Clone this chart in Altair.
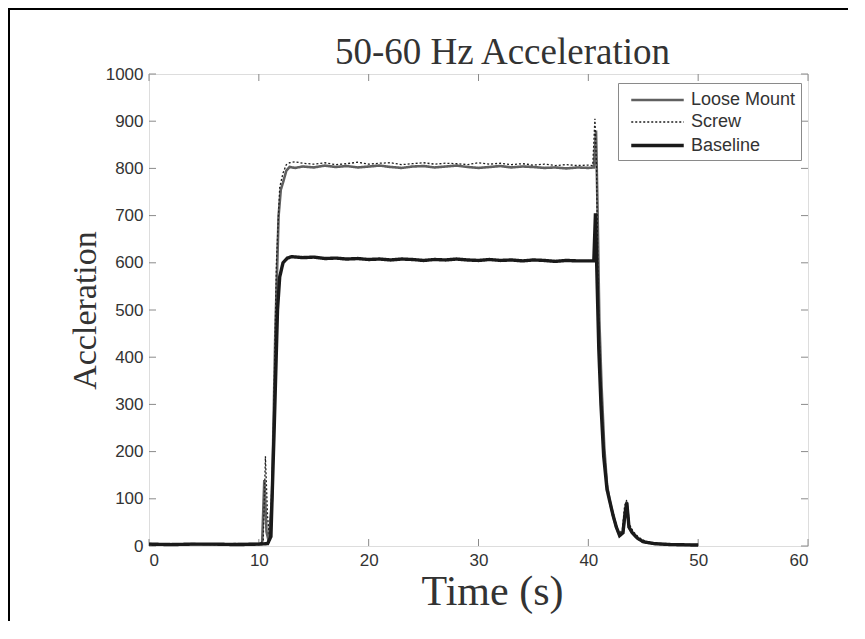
import altair as alt
import pandas as pd

series_names = ["Loose Mount", "Screw", "Baseline"]

loose_t = [0, 2, 4, 6, 8, 10, 10.3, 10.5, 10.7, 10.9, 11.2, 11.5, 11.8, 12.0, 12.2, 12.5, 12.8, 13.3,
           14, 15, 16, 17, 18, 19, 20, 21, 22, 23, 24, 25, 26, 27, 28, 29, 30, 31, 32, 33, 34, 35, 36, 37, 38, 39, 40,
           40.5, 40.7, 40.85, 41.0, 41.2, 41.45, 41.7, 41.95, 42.25, 42.55, 42.85, 43.15, 43.35, 43.5, 43.7,
           44.0, 44.5, 45.0, 46.0, 47.5, 50]
loose_v = [4, 3, 4, 3, 4, 4, 5, 140, 30, 10, 100, 450, 700, 755, 770, 795, 803, 801,
           804, 802, 806, 803, 805, 802, 804, 806, 803, 801, 804, 805, 802, 804, 806, 803, 801, 803, 805, 802,
           804, 803, 801, 802, 800, 802, 801,
           802, 880, 700, 480, 340, 210, 130, 95, 65, 40, 22, 28, 70, 92, 40, 28, 16, 9, 5, 3, 2]

screw_t = [0, 2, 4, 6, 8, 10, 10.4, 10.6, 10.8, 11.0, 11.3, 11.6, 11.9, 12.2, 12.5, 12.8, 13.3,
           14, 15, 16, 17, 18, 19, 20, 21, 22, 23, 24, 25, 26, 27, 28, 29, 30, 31, 32, 33, 34, 35, 36, 37, 38, 39, 40,
           40.4, 40.6, 40.75, 40.9, 41.1, 41.35, 41.6, 41.9, 42.2, 42.5, 42.8, 43.1, 43.3, 43.5, 43.75,
           44.1, 44.6, 45.2, 46.2, 47.5, 50]
screw_v = [3, 5, 4, 3, 5, 4, 10, 190, 60, 12, 200, 600, 760, 790, 808, 812, 814,
           811, 809, 812, 808, 810, 813, 809, 811, 812, 808, 810, 812, 809, 811, 810, 808, 812, 809, 811, 808,
           810, 807, 809, 806, 808, 806, 807,
           806, 905, 800, 520, 360, 230, 140, 100, 70, 45, 25, 35, 85, 98, 45, 30, 18, 10, 5, 3, 2]

base_t = [0, 2, 4, 6, 8, 10, 10.8, 11.1, 11.4, 11.7, 11.9, 12.2, 12.6, 13.0, 13.5,
          14, 15, 16, 17, 18, 19, 20, 21, 22, 23, 24, 25, 26, 27, 28, 29, 30, 31, 32, 33, 34, 35, 36, 37, 38, 39, 40,
          40.5, 40.65, 40.8, 40.95, 41.15, 41.4, 41.7, 41.95, 42.25, 42.55, 42.85, 43.15, 43.35, 43.5, 43.7,
          44.0, 44.5, 45.0, 46.0, 47.5, 50]
base_v = [4, 3, 4, 4, 3, 4, 5, 20, 250, 500, 570, 600, 610, 613, 612,
          611, 612, 609, 610, 608, 609, 607, 608, 606, 608, 607, 605, 607, 606, 608, 606, 605, 607, 605, 606,
          604, 606, 605, 603, 605, 604, 604,
          604, 705, 560, 420, 300, 190, 120, 95, 65, 40, 22, 28, 70, 92, 40, 28, 16, 9, 5, 3, 2]

x_ticks = [0, 10, 20, 30, 40, 50, 60]
y_ticks = [0, 100, 200, 300, 400, 500, 600, 700, 800, 900, 1000]

rows = []
for name, ts, vs in zip(series_names, [loose_t, screw_t, base_t], [loose_v, screw_v, base_v]):
    for i, (t, v) in enumerate(zip(ts, vs)):
        rows.append({"series": name, "t": t, "v": v, "i": i})
df = pd.DataFrame(rows)

W, H = 659, 472
TICK = 7
GRAY = "#8a8a8a"
TXT = "#333333"

xs = alt.Scale(domain=[0, 60], nice=False, zero=False)
ys = alt.Scale(domain=[0, 1000], nice=False)

legend = alt.Legend(
    title=None, orient="none", legendX=469, legendY=9,
    fillColor="white", strokeColor=GRAY, padding=5,
    symbolType="M-2.5,0L2.5,0", symbolSize=441, symbolOffset=22,
    labelOffset=21, labelFont="Liberation Sans", labelFontSize=18,
    labelColor=TXT, rowPadding=1.5, labelLimit=300,
)

color_scale = alt.Scale(domain=series_names, range=["#606060", "#1e1e1e", "#1a1a1a"])
dash_scale = alt.Scale(domain=series_names, range=[[1, 0], [2, 2], [1, 0]])
width_scale = alt.Scale(type="ordinal", domain=series_names, range=[2.6, 1.3, 3.4])

lines = alt.Chart(df).mark_line().encode(
    x=alt.X("t:Q", scale=xs, axis=alt.Axis(
        values=x_ticks, tickSize=0, domain=False, grid=False, format="d",
        labelFont="Liberation Sans", labelFontSize=17, labelColor=TXT, labelPadding=6,
        title="Time (s)", titleFont="Liberation Serif", titleFontSize=42,
        titleFontWeight="normal", titleColor=TXT, titlePadding=3, titleX=343)),
    y=alt.Y("v:Q", scale=ys, axis=alt.Axis(
        values=y_ticks, tickSize=0, domain=False, grid=False, format="d",
        labelFont="Liberation Sans", labelFontSize=17, labelColor=TXT, labelPadding=6,
        title="Accleration", titleFont="Liberation Serif", titleFontSize=34,
        titleFontWeight="normal", titleColor=TXT, titlePadding=3)),
    color=alt.Color("series:N", scale=color_scale, legend=legend, sort=series_names),
    strokeDash=alt.StrokeDash("series:N", scale=dash_scale, legend=legend, sort=series_names),
    strokeWidth=alt.StrokeWidth("series:N", scale=width_scale, legend=legend, sort=series_names),
    order="i:Q",
)

xt = pd.DataFrame({"t": x_ticks})
yt = pd.DataFrame({"v": y_ticks})
tick_b = alt.Chart(xt).mark_rule(color=GRAY, strokeWidth=1).encode(
    x=alt.X("t:Q", scale=xs), y=alt.value(H), y2=alt.value(H - TICK))
tick_t = alt.Chart(xt).mark_rule(color=GRAY, strokeWidth=1).encode(
    x=alt.X("t:Q", scale=xs), y=alt.value(0), y2=alt.value(TICK))
tick_l = alt.Chart(yt).mark_rule(color=GRAY, strokeWidth=1).encode(
    y=alt.Y("v:Q", scale=ys), x=alt.value(0), x2=alt.value(TICK))
tick_r = alt.Chart(yt).mark_rule(color=GRAY, strokeWidth=1).encode(
    y=alt.Y("v:Q", scale=ys), x=alt.value(W - TICK), x2=alt.value(W))

frame_df = pd.DataFrame({"k": [0]})
frame_l = alt.Chart(frame_df).mark_rule(color="black", strokeWidth=2).encode(
    x=alt.value(-140), y=alt.value(-65), y2=alt.value(700))
frame_t = alt.Chart(frame_df).mark_rule(color="black", strokeWidth=2).encode(
    y=alt.value(-65), x=alt.value(-141), x2=alt.value(800))

chart = alt.layer(tick_b, tick_t, tick_l, tick_r, lines, frame_l, frame_t).properties(
    width=W, height=H,
    title=alt.TitleParams("50-60 Hz Acceleration", font="Liberation Serif", fontSize=37,
                          fontWeight="normal", color=TXT, anchor="middle",
                          baseline="alphabetic", offset=-93, dx=24),
    padding={"left": 141, "top": 66, "right": 40, "bottom": 75},
    autosize=alt.AutoSizeParams(type="none"),
).configure_view(stroke=GRAY, strokeWidth=1.5).configure(background="white")

chart.save("out.html", embed_options={"renderer": "svg", "actions": False})
